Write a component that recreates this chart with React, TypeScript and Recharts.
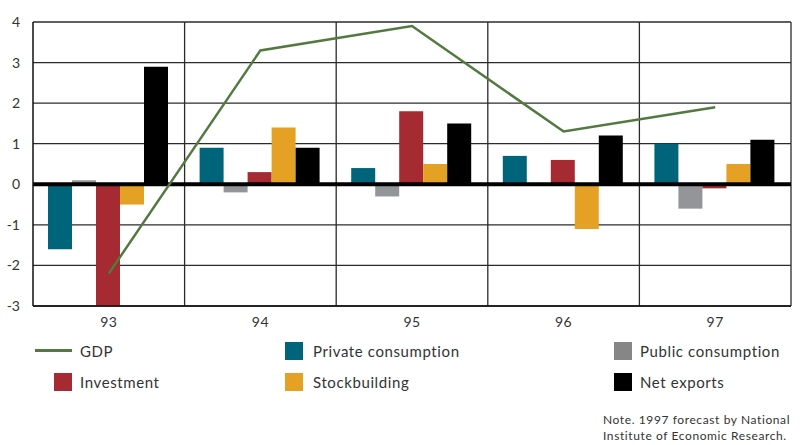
import {
  ComposedChart,
  Bar,
  Line,
  XAxis,
  YAxis,
  CartesianGrid,
  ReferenceLine,
  Legend,
} from 'recharts';

const YEARS = ['93', '94', '95', '96', '97'];
const GDP = [-2.2, 3.3, 3.9, 1.3, 1.9];
const PRIVATE_CONSUMPTION = [-1.6, 0.9, 0.4, 0.7, 1.0];
const PUBLIC_CONSUMPTION = [0.1, -0.2, -0.3, 0, -0.6];
const INVESTMENT = [-3.0, 0.3, 1.8, 0.6, -0.1];
const STOCKBUILDING = [-0.5, 1.4, 0.5, -1.1, 0.5];
const NET_EXPORTS = [2.9, 0.9, 1.5, 1.2, 1.1];
const Y_TICKS = [-3, -2, -1, 0, 1, 2, 3, 4];

const COLORS = {
  gdp: '#52793f',
  priv: '#00657a',
  pub: '#939598',
  inv: '#a52a32',
  stock: '#e5a124',
  net: '#000000',
};

const data = YEARS.map((year, i) => ({
  year,
  gdp: GDP[i],
  priv: PRIVATE_CONSUMPTION[i],
  pub: PUBLIC_CONSUMPTION[i],
  inv: INVESTMENT[i],
  stock: STOCKBUILDING[i],
  net: NET_EXPORTS[i],
}));

const FONT = 'Lato, "Liberation Sans", sans-serif';

// legend grid: column text start, rows top
const LEGEND_ITEMS = [
  { name: 'GDP', color: COLORS.gdp, kind: 'line', col: 0, row: 0 },
  { name: 'Private consumption', color: COLORS.priv, kind: 'box', col: 1, row: 0 },
  { name: 'Public consumption', color: '#868686', kind: 'box', col: 2, row: 0 },
  { name: 'Investment', color: COLORS.inv, kind: 'box', col: 0, row: 1 },
  { name: 'Stockbuilding', color: COLORS.stock, kind: 'box', col: 1, row: 1 },
  { name: 'Net exports', color: COLORS.net, kind: 'box', col: 2, row: 1 },
];
const COL_TEXT_X = [80, 313, 640];
const ROW_Y = [342, 373];

function ChartLegend() {
  return (
    <div style={{ position: 'relative', width: 802, height: 109, fontFamily: FONT }}>
      {LEGEND_ITEMS.map((item) => {
        const textX = COL_TEXT_X[item.col];
        const top = ROW_Y[item.row] - 336;
        return (
          <div key={item.name}>
            {item.kind === 'line' ? (
              <div
                style={{
                  position: 'absolute',
                  left: textX - 45,
                  top: top + 7,
                  width: 37,
                  height: 3,
                  background: item.color,
                }}
              />
            ) : (
              <div
                style={{
                  position: 'absolute',
                  left: textX - (item.col === 1 ? 28 : 26),
                  top,
                  width: 18,
                  height: 18,
                  background: item.color,
                }}
              />
            )}
            <div
              style={{
                position: 'absolute',
                left: textX,
                top: top - 1,
                fontSize: 15,
                lineHeight: '20px',
                letterSpacing: 0.6,
                color: '#333',
                whiteSpace: 'nowrap',
              }}
            >
              {item.name}
            </div>
          </div>
        );
      })}
      <div
        style={{
          position: 'absolute',
          left: 603,
          top: 76,
          fontSize: 12,
          lineHeight: '16px',
          letterSpacing: 0.6,
          color: '#333',
          whiteSpace: 'nowrap',
        }}
      >
        Note. 1997 forecast by National
        <br />
        Institute of Economic Research.
      </div>
    </div>
  );
}

export default function App() {
  return (
    <div style={{ position: 'absolute', left: 0, top: 0, width: 802, height: 445, background: '#fff' }}>
      <ComposedChart
        width={802}
        height={445}
        data={data}
        margin={{ top: 22, right: 11, left: 0, bottom: 109 }}
        barCategoryGap={15}
        barGap={0}
      >
        <CartesianGrid
          stroke="#2b2b2b"
          strokeWidth={1.3}
          verticalCoordinatesGenerator={({ offset }: any) =>
            YEARS.map((_, i) => offset.left + (offset.width * (i + 1)) / YEARS.length)
          }
        />
        <XAxis
          dataKey="year"
          tickLine={false}
          axisLine={{ stroke: '#111', strokeWidth: 1.5 }}
          height={30}
          tick={{ fill: '#333', fontSize: 14, fontFamily: FONT, letterSpacing: 0.5 }}
          tickMargin={5}
        />
        <YAxis
          width={33}
          domain={[-3, 4]}
          ticks={Y_TICKS}
          allowDataOverflow
          tickLine={false}
          axisLine={{ stroke: '#111', strokeWidth: 1.5 }}
          tick={{ fill: '#333', fontSize: 14, fontFamily: FONT }}
          tickMargin={7}
        />
        <Bar dataKey="priv" name="Private consumption" fill={COLORS.priv} isAnimationActive={false} />
        <Bar dataKey="pub" name="Public consumption" fill={COLORS.pub} isAnimationActive={false} />
        <Bar dataKey="inv" name="Investment" fill={COLORS.inv} isAnimationActive={false} />
        <Bar dataKey="stock" name="Stockbuilding" fill={COLORS.stock} isAnimationActive={false} />
        <Bar dataKey="net" name="Net exports" fill={COLORS.net} isAnimationActive={false} />
        <ReferenceLine y={0} stroke="#000" strokeWidth={4} />
        <Line
          type="linear"
          dataKey="gdp"
          name="GDP"
          stroke={COLORS.gdp}
          strokeWidth={2.5}
          dot={false}
          isAnimationActive={false}
        />
        <Legend
          layout="horizontal"
          verticalAlign="middle"
          align="center"
          wrapperStyle={{ top: 336, left: 0, width: 802 }}
          content={() => <ChartLegend />}
        />
      </ComposedChart>
    </div>
  );
}
